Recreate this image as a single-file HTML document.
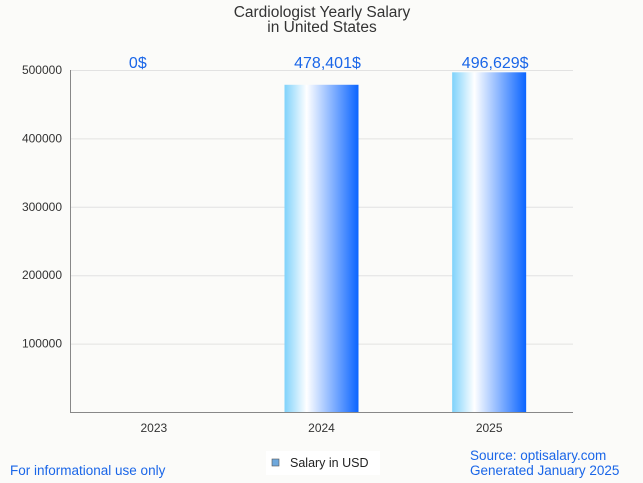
<!DOCTYPE html>
<html><head><meta charset="utf-8"><style>
body{margin:0;background:#fbfbf9;}
svg{display:block;font-family:"Liberation Sans",sans-serif;}
</style></head><body>
<svg width="643" height="483" viewBox="0 0 643 483">
<defs>
<linearGradient id="bg" x1="0" x2="1" y1="0" y2="0">
<stop offset="0" stop-color="#7fd2fb"/><stop offset="0.3" stop-color="#ffffff"/><stop offset="1" stop-color="#0a64ff"/>
</linearGradient>
</defs>
<rect width="643" height="483" fill="#fbfbf9"/>
<text x="322" y="17" text-anchor="middle" font-size="15.5" fill="#333">Cardiologist Yearly Salary</text>
<text x="322" y="32" text-anchor="middle" font-size="15.5" fill="#333">in United States</text>
<g id="grid"></g>
<g id="bars"></g>
<line x1="70" y1="412.5" x2="573" y2="412.5" stroke="#888"/>
<line x1="70.5" y1="70" x2="70.5" y2="412" stroke="#888"/>
<rect x="266" y="451" width="114" height="24" fill="#fff"/>
<rect x="272" y="459" width="7" height="7" fill="#6fa8dc" stroke="#555" stroke-width="0.6"/>
<text x="290" y="467" font-size="12.5" fill="#222">Salary in USD</text>
<text x="10" y="475" font-size="13.5" fill="#1a66e8">For informational use only</text>
<text x="470" y="460" font-size="13.5" fill="#1a66e8">Source: optisalary.com</text>
<text x="470" y="475" font-size="13.5" fill="#1a66e8">Generated January 2025</text>
</svg>
<script>
const categories=["2023","2024","2025"];
const values=[0,478401,496629];
const valueLabels=["0$","478,401$","496,629$"];
const yTicks=[100000,200000,300000,400000,500000];
const NS="http://www.w3.org/2000/svg";
const x0=70,x1=573,y0=412,yTop=70,yMax=500000;
function y(v){return y0-(v/yMax)*(y0-yTop);}
const band=(x1-x0)/categories.length;
function xc(i){return x0+band*(i+0.5);}
const grid=document.getElementById('grid'),bars=document.getElementById('bars');
function mk(tag,attrs,parent,text){const e=document.createElementNS(NS,tag);for(const k in attrs)e.setAttribute(k,attrs[k]);if(text!==undefined)e.textContent=text;parent.appendChild(e);return e;}
yTicks.forEach(t=>{
 const l=mk('line',{x1:x0,x2:x1,y1:y(t)+0.5,y2:y(t)+0.5,stroke:'#e2e2e2'},grid);
 
 
 const tx=mk('text',{x:62,y:y(t)+4,'text-anchor':'end','font-size':12,fill:'#333'},grid,String(t));
 
 
});
categories.forEach((c,i)=>{
 const bw=74,h=y0-y(values[i]);
 if(h>0){const r=mk('rect',{x:xc(i)-bw/2,y:y(values[i]),width:bw,height:h,fill:'url(#bg)'},bars);
 
 }
 const lx=values[i]>0?xc(i)+6:xc(i)-16;
 const lab=mk('text',{x:lx,y:Math.min(y(values[i]),y(yMax))-2,'text-anchor':'middle','font-size':16,fill:'#1a66e8'},bars,valueLabels[i]);
 
 
 const xt=mk('text',{x:xc(i),y:432,'text-anchor':'middle','font-size':12,fill:'#333'},bars,c);
 
 
});
</script>
</body></html>
